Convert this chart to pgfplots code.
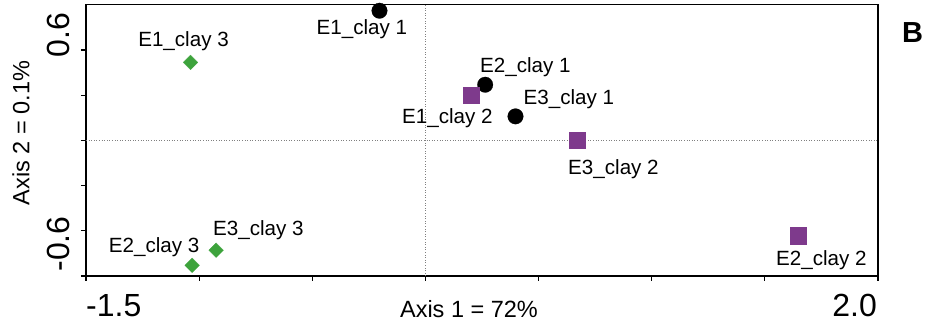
\documentclass[border=0pt]{standalone}
\usepackage{fontspec}
\setmainfont{Liberation Sans}
\usepackage{pgfplots}
\pgfplotsset{compat=1.18}
\definecolor{clayone}{RGB}{0,0,0}
\definecolor{claytwo}{RGB}{126,58,140}
\definecolor{claythree}{RGB}{61,163,60}
\newcommand{\lab}{\fontsize{20.6}{23}\selectfont}
\newcommand{\ticklab}{\fontsize{32}{36}\selectfont}
\newcommand{\axlab}{\fontsize{23.5}{26}\selectfont}
\begin{document}
\begin{tikzpicture}
\begin{axis}[
  at={(0,0)}, anchor=south west,
  scale only axis, width=792pt, height=271.3pt,
  xmin=-1.5, xmax=2, ymin=-0.9, ymax=0.9,
  xtick={-1.5,-1,-0.5,0,0.5,1,1.5,2},
  ytick={-0.9,-0.6,-0.3,0,0.3,0.6},
  xticklabels={}, yticklabels={},
  xtick pos=left, ytick pos=left,
  tick align=outside,
  major tick length=5pt,
  every tick/.style={line width=1.2pt, black},
  axis line style={line width=1.4pt},
  clip=false,
]
% reference lines through the origin
\addplot[dotted, line width=0.6pt, gray] coordinates {(0,-0.9) (0,0.9)};
\addplot[dotted, line width=0.6pt, gray] coordinates {(-1.5,0) (2,0)};
% clay 1
\addplot[only marks, mark=*, mark size=7.8pt, mark options={fill=clayone, draw=clayone, line width=0.2pt}]
  coordinates {(-0.203,0.860) (0.264,0.369) (0.398,0.159)};
% clay 2
\addplot[only marks, mark=square*, mark size=8.1pt, mark options={fill=claytwo, draw=claytwo, line width=0.2pt}]
  coordinates {(0.202,0.298) (1.648,-0.632) (0.669,0.000)};
% clay 3
\addplot[only marks, mark=square*, mark size=5.2pt, mark options={rotate=45, fill=claythree, draw=claythree, line width=0.2pt}]
  coordinates {(-1.038,0.517) (-1.031,-0.829) (-0.925,-0.729)};
% point labels
\node[anchor=base] at (axis cs:-0.281,0.701) {\lab E1\_clay 1};
\node[anchor=base] at (axis cs:0.442,0.447) {\lab E2\_clay 1};
\node[anchor=base] at (axis cs:0.634,0.237) {\lab E3\_clay 1};
\node[anchor=base] at (axis cs:0.097,0.111) {\lab E1\_clay 2};
\node[anchor=base] at (axis cs:1.750,-0.829) {\lab E2\_clay 2};
\node[anchor=base] at (axis cs:0.831,-0.227) {\lab E3\_clay 2};
\node[anchor=base] at (axis cs:-1.069,0.623) {\lab E1\_clay 3};
\node[anchor=base] at (axis cs:-1.199,-0.747) {\lab E2\_clay 3};
\node[anchor=base] at (axis cs:-0.738,-0.630) {\lab E3\_clay 3};
\end{axis}
% axis end labels and titles
\node[anchor=base west, inner sep=0pt] at (0pt,-41pt) {\ticklab -1.5};
\node[anchor=base east, inner sep=0pt] at (791pt,-41pt) {\ticklab 2.0};
\node[anchor=base, rotate=90, inner sep=0pt] at (-16pt,241pt) {\ticklab 0.6};
\node[anchor=base, rotate=90, inner sep=0pt] at (-16pt,32pt) {\ticklab -0.6};
\node[anchor=base, inner sep=0pt] at (383pt,-42pt) {\axlab Axis 1 = 72\%};
\node[anchor=base, rotate=90, inner sep=0pt] at (-56.7pt,143pt) {\axlab Axis 2 = 0.1\%};
\node[anchor=base west, inner sep=0pt] at (816pt,233pt) {\fontsize{29}{32}\selectfont\bfseries B};
\pgfresetboundingbox
\path (-86pt,-55pt) rectangle (840pt,276pt);
\end{tikzpicture}
\end{document}
